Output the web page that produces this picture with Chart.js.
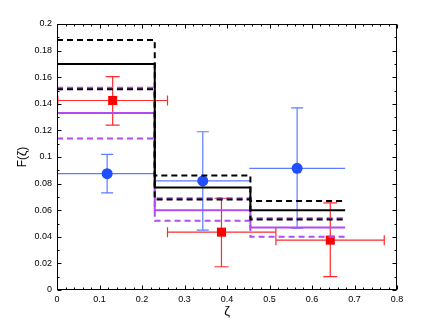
<!DOCTYPE html>
<html>
<head>
<meta charset="utf-8">
<script src="https://cdn.jsdelivr.net/npm/chart.js@4"></script>
<style>
  body { margin: 0; background: #fff; }
</style>
</head>
<body>
<canvas id="myChart" width="436" height="328"></canvas>
<script>
// bin edges in zeta and the step-line values per bin
const binEdges = [0, 0.23, 0.455, 0.678];
const blackDashed = [0.188, 0.086, 0.067];
const blackSolid = [0.170, 0.077, 0.060];
const blackDashedLow = [0.151, 0.068, 0.053];
const purpleDashed = [0.152, 0.069, 0.054];
const purpleSolid = [0.133, 0.060, 0.047];
const purpleDashedLow = [0.114, 0.052, 0.040];

// blue circles with error bars
const blueX = [0.118, 0.343, 0.565];
const blueY = [0.0875, 0.082, 0.0915];
const blueYLo = [0.073, 0.045, 0.0465];
const blueYHi = [0.102, 0.119, 0.137];
const blueXLo = [0, 0.23, 0.4525];
const blueXHi = [0.23, 0.455, 0.678];

// red squares with error bars
const redX = [0.131, 0.387, 0.643];
const redY = [0.1425, 0.0435, 0.0375];
const redYLo = [0.124, 0.0175, 0.010];
const redYHi = [0.1605, 0.069, 0.0655];
const redXLo = [0.002, 0.26, 0.515];
const redXHi = [0.26, 0.515, 0.77];

const xTicks = [0, 0.1, 0.2, 0.3, 0.4, 0.5, 0.6, 0.7, 0.8];
const yTicks = [0, 0.02, 0.04, 0.06, 0.08, 0.1, 0.12, 0.14, 0.16, 0.18, 0.2];

const PURPLE = '#b24cf2';

function stepPoints(vals) {
    const pts = [];
    vals.forEach((v, i) => {
        pts.push({ x: binEdges[i], y: v });
        pts.push({ x: binEdges[i + 1], y: v });
    });
    return pts;
}

function stepSet(vals, color, dash) {
    return {
        type: 'line',
        data: stepPoints(vals),
        borderColor: color,
        borderWidth: 2,
        borderDash: dash,
        pointRadius: 0,
        fill: false,
        tension: 0
    };
}

function markers(xs, ys) {
    return xs.map((x, i) => ({ x: x, y: ys[i] }));
}

// error bars drawn just before their marker dataset
const errorBars = {
    id: 'errorBars',
    beforeDatasetDraw(chart, args) {
        const ds = chart.data.datasets[args.index];
        if (!ds.err) return;
        const e = ds.err;
        const xs = chart.scales.x, ys = chart.scales.y;
        const ctx = chart.ctx;
        ctx.save();
        ctx.strokeStyle = e.color;
        ctx.lineWidth = 1.2;
        ctx.beginPath();
        e.x.forEach((xv, i) => {
            const px = xs.getPixelForValue(xv);
            const py = ys.getPixelForValue(e.y[i]);
            const top = ys.getPixelForValue(e.yHi[i]);
            const bot = ys.getPixelForValue(e.yLo[i]);
            const l = xs.getPixelForValue(e.xLo[i]);
            const r = xs.getPixelForValue(e.xHi[i]);
            ctx.moveTo(px, top); ctx.lineTo(px, bot);
            ctx.moveTo(px - e.capV, top); ctx.lineTo(px + e.capV, top);
            ctx.moveTo(px - e.capV, bot); ctx.lineTo(px + e.capV, bot);
            ctx.moveTo(l, py); ctx.lineTo(r, py);
            if (e.capH) {
                ctx.moveTo(l, py - e.capH); ctx.lineTo(l, py + e.capH);
                ctx.moveTo(r, py - e.capH); ctx.lineTo(r, py + e.capH);
            }
        });
        ctx.stroke();
        ctx.restore();
    }
};

// box frame with inward major/minor ticks on all sides
const frame = {
    id: 'frame',
    afterDatasetsDraw(chart) {
        const { ctx, chartArea: a } = chart;
        const xs = chart.scales.x, ys = chart.scales.y;
        const L = Math.round(a.left) + 0.5, R = Math.round(a.right) - 0.5;
        const T = Math.round(a.top) + 0.5, B = Math.round(a.bottom) - 0.5;
        ctx.save();
        ctx.strokeStyle = '#000';
        ctx.lineWidth = 1;
        ctx.beginPath();
        for (let i = 0; i <= 40; i++) {
            const v = i * 0.02;
            const px = Math.round(xs.getPixelForValue(v)) + 0.5;
            const len = i % 5 === 0 ? 4 : 2;
            ctx.moveTo(px, B); ctx.lineTo(px, B - len);
            ctx.moveTo(px, T); ctx.lineTo(px, T + len);
        }
        for (let i = 0; i <= 20; i++) {
            const v = i * 0.01;
            const py = Math.round(ys.getPixelForValue(v)) + 0.5;
            const len = i % 2 === 0 ? 4 : 2;
            ctx.moveTo(L, py); ctx.lineTo(L + len, py);
            ctx.moveTo(R, py); ctx.lineTo(R - len, py);
        }
        ctx.stroke();
        ctx.strokeRect(L, T, R - L, B - T);
        ctx.restore();
    }
};

const tickFont = { family: 'Liberation Sans, Arial, sans-serif', size: 9 };

new Chart(document.getElementById('myChart').getContext('2d'), {
    data: {
        datasets: [
            stepSet(blackDashed, '#000', [6, 4]),
            stepSet(blackSolid, '#000', []),
            stepSet(blackDashedLow, '#000', [6, 4]),
            stepSet(purpleDashedLow, PURPLE, [6, 4]),
            stepSet(purpleSolid, PURPLE, []),
            stepSet(purpleDashed, PURPLE, [6, 4]),
            {
                type: 'scatter',
                data: markers(blueX, blueY),
                pointStyle: 'circle',
                pointRadius: 5.5,
                backgroundColor: '#1f4fff',
                borderColor: '#1f4fff',
                borderWidth: 0,
                err: { x: blueX, y: blueY, yLo: blueYLo, yHi: blueYHi, xLo: blueXLo, xHi: blueXHi,
                       color: '#5b7dff', capV: 6, capH: 0 }
            },
            {
                type: 'scatter',
                data: markers(redX, redY),
                pointStyle: 'rect',
                pointRadius: 6.4,
                backgroundColor: '#ff0000',
                borderColor: '#ff0000',
                borderWidth: 0,
                err: { x: redX, y: redY, yLo: redYLo, yHi: redYHi, xLo: redXLo, xHi: redXHi,
                       color: '#ff2a2a', capV: 7, capH: 5 }
            }
        ]
    },
    options: {
        responsive: false,
        animation: false,
        layout: { padding: { left: 0, top: 24, right: 39, bottom: 0 } },
        plugins: { legend: { display: false }, tooltip: { enabled: false } },
        scales: {
            x: {
                type: 'linear',
                min: 0,
                max: 0.8,
                afterFit: s => { s.height = 38; },
                afterBuildTicks: s => { s.ticks = xTicks.map(v => ({ value: v })); },
                grid: { display: false, drawTicks: false },
                border: { display: false },
                ticks: {
                    color: '#000',
                    font: tickFont,
                    padding: 4,
                    maxRotation: 0,
                    callback: v => String(+v.toFixed(3))
                },
                title: {
                    display: true,
                    text: 'ζ',
                    color: '#000',
                    font: { family: 'Liberation Sans, Arial, sans-serif', size: 13 },
                    padding: { top: 0, bottom: 9 }
                }
            },
            y: {
                type: 'linear',
                min: 0,
                max: 0.2,
                afterFit: s => { s.width = 57; },
                afterBuildTicks: s => { s.ticks = yTicks.map(v => ({ value: v })); },
                grid: { display: false, drawTicks: false },
                border: { display: false },
                ticks: {
                    color: '#000',
                    font: tickFont,
                    padding: 5,
                    callback: v => String(+v.toFixed(3))
                },
                title: {
                    display: true,
                    text: 'F(ζ)',
                    color: '#000',
                    font: { family: 'Liberation Sans, Arial, sans-serif', size: 12 },
                    padding: { top: 15, bottom: 0 }
                }
            }
        }
    },
    plugins: [errorBars, frame]
});
</script>
</body>
</html>
